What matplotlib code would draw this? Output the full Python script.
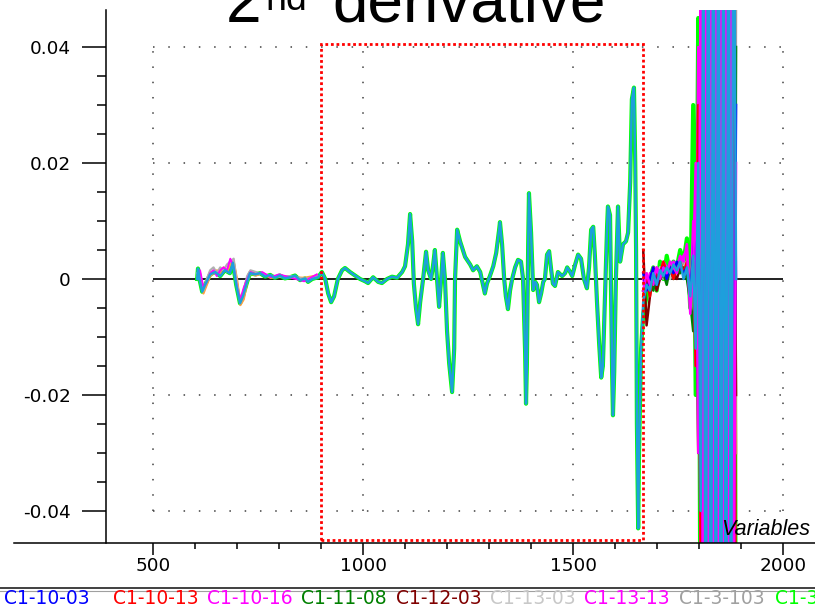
import numpy as np
import matplotlib.pyplot as plt
from matplotlib.patches import Rectangle
from matplotlib.lines import Line2D

# main trace (all samples overlap here), wavenumber -> 2nd derivative
wn_body = [605, 607, 612, 617, 624, 636, 648, 660, 671, 683,
           690, 698, 707, 714, 724, 731, 743, 755, 767, 779,
           790, 802, 814, 826, 838, 850, 862, 869, 879, 893,
           902, 910, 917, 924, 931, 940, 950, 957, 969, 981,
           993, 1005, 1012, 1024, 1036, 1045, 1057, 1069, 1081, 1093,
           1100, 1107, 1112, 1117, 1121, 1126, 1131, 1136, 1143, 1150,
           1155, 1162, 1167, 1171, 1176, 1181, 1186, 1190, 1195, 1200,
           1205, 1212, 1217, 1219, 1224, 1231, 1243, 1255, 1262, 1271,
           1279, 1286, 1290, 1295, 1302, 1310, 1317, 1324, 1326, 1331,
           1336, 1340, 1345, 1350, 1355, 1362, 1369, 1376, 1381, 1386,
           1388, 1390, 1393, 1395, 1400, 1405, 1410, 1414, 1419, 1424,
           1429, 1433, 1438, 1443, 1448, 1452, 1457, 1464, 1474, 1481,
           1486, 1493, 1498, 1505, 1512, 1519, 1526, 1533, 1538, 1543,
           1548, 1552, 1557, 1562, 1567, 1571, 1576, 1581, 1583, 1588,
           1590, 1593, 1595, 1598, 1602, 1607, 1612, 1619, 1626, 1631,
           1636, 1640, 1645, 1648, 1650, 1652, 1655, 1657, 1662]
d2_body = [0.0, 0.0018, -0.0005, -0.0022, -0.001, 0.0008, 0.0012, 0.0005, 0.0015, 0.0010,
           0.0028, -0.001, -0.0042, -0.003, -0.0005, 0.0010, 0.0008, 0.0010, 0.0004, 0.0007,
           0.0002, 0.0006, 0.0001, 0.0003, 0.0006, -0.0002, 0.0001, -0.0005, 0.0, 0.0003,
           0.0012, 0.0, -0.0025, -0.004, -0.003, 0.0, 0.0015, 0.0019, 0.0012, 0.0006,
           0.0, -0.0004, -0.0007, 0.0003, -0.0005, -0.0007, 0.0, 0.0004, 0.0002, 0.0012,
           0.0022, 0.006, 0.0112, 0.0065, -0.0008, -0.005, -0.0078, -0.004, 0.0, 0.0047,
           0.0015, 0.0, 0.0025, 0.005, 0.0, -0.0048, 0.0, 0.0045, 0.0, -0.009,
           -0.0145, -0.0195, -0.012, 0.0, 0.0085, 0.0065, 0.0038, 0.0025, 0.0015, 0.0022,
           0.0012, -0.0012, -0.0025, -0.0008, 0.0005, 0.0022, 0.0045, 0.0085, 0.0098, 0.006,
           0.0, -0.003, -0.0052, -0.002, 0.0, 0.002, 0.0033, 0.003, 0.0, -0.013,
           -0.0215, -0.015, 0.005, 0.0148, 0.008, -0.0019, -0.0005, -0.001, -0.004, -0.0025,
           -0.0005, 0.0, 0.0042, 0.0048, 0.0015, -0.0008, -0.0012, 0.0012, 0.0005, 0.001,
           0.002, 0.0012, 0.0005, 0.0025, 0.0042, 0.0035, 0.0, -0.0016, 0.002, 0.0085,
           0.009, 0.004, -0.004, -0.011, -0.017, -0.015, -0.003, 0.009, 0.0125, 0.011,
           0.0, -0.016, -0.0235, -0.016, 0.0, 0.0125, 0.003, 0.006, 0.0065, 0.008,
           0.0167, 0.031, 0.033, 0.02, 0.005, -0.025, -0.043, -0.03, -0.012]

# low-wavenumber region where the samples spread a little
wn_start = [605, 612, 620, 628, 636, 644, 652, 660, 668, 676, 684, 692,
            700, 708, 716, 724, 732, 745, 760, 780, 800, 830, 860, 890]
gray_start = [0.001, 0.0, -0.002, 0.0, 0.0015, 0.002, 0.001, 0.002, 0.0015, 0.0025, 0.003, 0.0035,
              -0.001, -0.004, -0.002, 0.0005, 0.0015, 0.0012, 0.0008, 0.0006, 0.0004, 0.0005, 0.0, 0.0004]
magenta_start = [0.0, 0.0015, -0.0015, -0.0005, 0.001, 0.0015, 0.0005, 0.0015, 0.002, 0.0015, 0.0035, 0.002,
                 -0.0015, -0.0035, -0.0015, 0.0, 0.0012, 0.0008, 0.0012, 0.0003, 0.0008, 0.0002, -0.0004, 0.0008]
orange_start = [0.0005, 0.001, -0.0025, -0.001, 0.0005, 0.001, 0.0015, 0.001, 0.002, 0.0012, 0.0025, 0.003,
                0.0, -0.0045, -0.0035, -0.0005, 0.001, 0.0006, 0.0010, 0.0002, 0.0005, 0.0003, 0.0002, 0.0006]

# noisy high-wavenumber end, one list per sample
wn_tail = [1667, 1675, 1683, 1691, 1699, 1707, 1715, 1723, 1731, 1739, 1747, 1755, 1763, 1771, 1779, 1786,
           1792, 1798, 1804, 1810, 1816, 1822, 1828, 1834, 1840, 1846, 1852, 1858, 1864, 1870, 1876, 1882, 1888]
cyan_tail = [-0.004, -0.001, -0.002, 0.001, -0.001, 0.0015, 0.0005, 0.002, 0.001, 0.0025, 0.0015, 0.003, 0.0, 0.002, -0.003, 0.004,
             -0.012, 0.02, -0.04, 0.06, -0.08, 0.09, -0.09, 0.09, -0.08, 0.09, -0.09, 0.08, -0.09, 0.09, -0.08, 0.09, 0.0]
lime_tail = [-0.006, -0.003, 0.0, 0.002, -0.002, 0.003, 0.0, 0.004, 0.001, 0.003, 0.002, 0.005, 0.003, 0.007, -0.005, 0.03,
             -0.02, 0.045, -0.08, 0.09, -0.09, 0.09, -0.07, 0.09, -0.09, 0.08, -0.09, 0.09, -0.09, 0.09, -0.09, 0.09, -0.09]
blue_tail = [0.001, -0.002, 0.0, 0.002, -0.001, 0.001, 0.002, 0.0, 0.002, 0.001, 0.003, 0.002, 0.001, 0.002, -0.002, 0.004,
             0.01, -0.02, 0.04, -0.06, 0.08, -0.03, 0.09, -0.09, 0.05, -0.09, 0.09, -0.07, 0.09, -0.09, 0.07, -0.05, 0.03]
red_tail = [-0.003, 0.0, -0.003, 0.002, 0.0, 0.001, 0.003, 0.001, 0.002, 0.0, 0.002, 0.003, 0.001, 0.003, -0.003, 0.003,
            -0.015, 0.03, -0.05, 0.07, -0.09, 0.09, -0.06, 0.09, -0.09, 0.06, -0.09, 0.09, -0.05, 0.09, -0.09, 0.09, -0.09]
magenta_tail = [-0.002, 0.001, -0.001, 0.0, 0.002, 0.0, 0.002, 0.001, 0.003, 0.002, 0.001, 0.003, 0.004, 0.005, -0.006, 0.002,
                0.02, -0.03, 0.06, -0.09, 0.09, -0.07, 0.08, -0.09, 0.09, -0.08, 0.09, -0.09, 0.07, -0.09, 0.09, -0.07, 0.02]
dgreen_tail = [-0.002, -0.001, 0.0, -0.002, 0.001, 0.0, 0.001, -0.001, 0.002, 0.0, 0.002, 0.001, 0.002, 0.0, -0.004, -0.009,
               0.01, -0.03, 0.05, -0.07, 0.09, -0.09, 0.06, -0.08, 0.09, -0.09, 0.08, -0.09, 0.09, -0.06, 0.09, -0.09, 0.04]
dred_tail = [0.005, -0.008, -0.003, 0.001, -0.002, 0.0, 0.001, 0.0, 0.002, 0.001, 0.0, 0.002, 0.001, 0.002, -0.002, 0.003,
             -0.01, 0.03, -0.06, 0.08, -0.05, 0.09, -0.09, 0.07, -0.09, 0.09, -0.06, 0.09, -0.09, 0.08, -0.09, 0.05, -0.02]
lgray_tail = [-0.001, 0.001, -0.002, 0.002, 0.0, 0.002, 0.001, 0.002, 0.0, 0.002, 0.003, 0.001, 0.002, 0.003, -0.001, 0.002,
              -0.01, 0.02, -0.05, 0.09, -0.09, 0.06, -0.09, 0.09, -0.09, 0.07, -0.09, 0.09, -0.08, 0.09, -0.09, 0.06, -0.03]
magenta2_tail = [0.0, -0.002, 0.001, -0.001, 0.002, 0.001, 0.003, 0.002, 0.001, 0.003, 0.002, 0.004, 0.003, 0.006, -0.005, 0.01,
                 -0.015, 0.04, -0.06, 0.08, -0.09, 0.09, -0.09, 0.06, -0.09, 0.09, -0.09, 0.09, -0.07, 0.09, -0.08, 0.04, 0.0]
gray_tail = [-0.002, 0.0, -0.001, 0.001, 0.0, 0.002, 0.0, 0.001, 0.002, 0.001, 0.002, 0.002, 0.003, 0.001, -0.002, 0.003,
             0.0, -0.02, 0.05, -0.09, 0.07, -0.09, 0.09, -0.09, 0.09, -0.05, 0.09, -0.09, 0.09, -0.09, 0.07, -0.09, 0.05]
orange_tail = [-0.003, 0.001, -0.002, 0.0, 0.001, 0.0, 0.002, 0.001, 0.001, 0.002, 0.001, 0.002, 0.002, 0.003, -0.002, 0.002,
               0.01, -0.03, 0.05, -0.08, 0.09, -0.06, 0.09, -0.09, 0.08, -0.09, 0.09, -0.07, 0.09, -0.09, 0.09, 0.03, -0.03]

legend_labels = ['C1-10-03', 'C1-10-13', 'C1-10-16', 'C1-11-08', 'C1-12-03',
                 'C1-13-03', 'C1-13-13', 'C1-3-103', 'C1-3-113']
legend_colors = ['#0000ff', '#ff0000', '#ff00ff', '#008000', '#800000',
                 '#c8c8c8', '#ff00ff', '#a0a0a0', '#00ff00']
legend_px = [4, 113, 207, 301, 396, 490, 584, 679, 775]

W, H = 815, 605
fig = plt.figure(figsize=(W / 100, H / 100), dpi=100)
ax = fig.add_axes([14 / W, 62 / H, 801 / W, 533 / H])
ax.set_xlim(169, 2076)
ax.set_ylim(-0.04552, 0.04638)

# dotted grid and zero line, only over 500..2000 / -0.04..0.04
for yv in [-0.04, -0.02, 0.02, 0.04]:
    ax.hlines(yv, 500, 2000, colors='#404040', linestyles=(0, (1, 9)), lw=1.1, zorder=1)
for xv in [500, 1000, 1500, 2000]:
    ax.vlines(xv, -0.04, 0.04, colors='#404040', linestyles=(0, (1, 9)), lw=1.1, zorder=1)
ax.hlines(0, 500, 2000, colors='#202020', lw=1.4, zorder=1.5)

# spectra
wn_full = wn_body + wn_tail
ax.plot(wn_full, d2_body + lime_tail, color='#00ff00', lw=3.0, zorder=2)
ax.plot(wn_start, orange_start, color='#ffa040', lw=1.6, zorder=2.1)
ax.plot(wn_start, gray_start, color='#b0b0b0', lw=1.6, zorder=2.1)
ax.plot(wn_start, magenta_start, color='#ff00ff', lw=1.4, zorder=2.1)
tails = [(orange_tail, '#ffa040'), (gray_tail, '#a0a0a0'), (lgray_tail, '#c8c8c8'),
         (dred_tail, '#800000'), (dgreen_tail, '#008000'), (magenta2_tail, '#ff00ff'),
         (red_tail, '#ff0000'), (blue_tail, '#0000ff'), (magenta_tail, '#ff00ff')]
for vals, c in tails:
    ax.plot(wn_tail, vals, color=c, lw=1.8, zorder=2.2)
ax.plot(wn_full, d2_body + cyan_tail, color='#1e9fdc', lw=1.8, zorder=2.5)

# region of interest
ax.add_patch(Rectangle((900, -0.045), 767, 0.0855, fill=False, ec='#ff0000',
                       lw=2.0, ls=(0, (1, 1)), zorder=3))

# axes look
for s in ['top', 'right']:
    ax.spines[s].set_visible(False)
ax.spines['left'].set_position(('data', 388))
ax.spines['left'].set_linewidth(1.1)
ax.spines['bottom'].set_linewidth(1.1)

ax.set_xticks([500, 1000, 1500, 2000])
ax.set_xticklabels(['500', '1000', '1500', '2000'])
ax.set_xticks([600, 700, 800, 900, 1100, 1200, 1300, 1400, 1600, 1700, 1800, 1900], minor=True)
ax.set_yticks([-0.04, -0.02, 0, 0.02, 0.04])
ax.set_yticklabels(['-0.04', '-0.02', '0', '0.02', '0.04'])
ax.set_yticks([-0.035, -0.03, -0.025, -0.015, -0.01, -0.005,
               0.005, 0.01, 0.015, 0.025, 0.03, 0.035], minor=True)
ax.tick_params(axis='x', which='major', direction='out', length=8.6, width=1.1,
               labelsize=13.3, pad=1.5)
ax.tick_params(axis='x', which='minor', direction='out', length=4.3, width=1.1)
ax.tick_params(axis='y', which='major', direction='out', length=17.3, width=1.1,
               labelsize=13.3, pad=8)
ax.tick_params(axis='y', which='minor', direction='out', length=6.5, width=1.1)

fig.text(810 / W, 1 - 535 / H, 'Variables', ha='right', va='baseline', style='italic',
         family='Liberation Sans', fontsize=15.5)

# title, top cut off by the figure edge
fig.text(226 / W, 1 - 22 / H, '2', ha='left', va='baseline', fontsize=46, family='Liberation Sans')
fig.text(265 / W, 1 - 10 / H, 'nd', ha='left', va='baseline', fontsize=27, family='Liberation Sans')
fig.text(606 / W, 1 - 22 / H, 'derivative', ha='right', va='baseline', fontsize=46, family='Liberation Sans')

# legend strip
fig.add_artist(Line2D([0, 1], [1 - 588 / H] * 2, transform=fig.transFigure, color='#202020', lw=1.2))
fig.add_artist(Line2D([0, 1], [1 - 590.5 / H] * 2, transform=fig.transFigure, color='#a0a0a0', lw=0.8))
for lab, c, x in zip(legend_labels, legend_colors, legend_px):
    fig.text(x / W, 1 - 598 / H, lab, color=c, fontsize=13.5, ha='left', va='center')

fig.savefig('out.png', dpi=100)
